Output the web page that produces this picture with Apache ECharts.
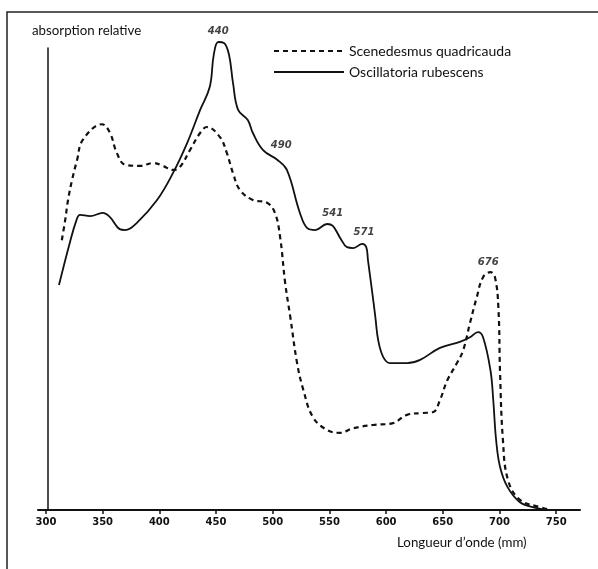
<!DOCTYPE html>
<html>
<head>
<meta charset="utf-8">
<script src="https://cdn.jsdelivr.net/npm/echarts@6/dist/echarts.min.js"></script>
<style>
  html, body { margin: 0; padding: 0; background: #fff; }
  #main { width: 598px; height: 569px; }
</style>
</head>
<body>
<div id="main"></div>
<script>
// longueur d'onde (nm) / absorption relative
var scenedesmusNm = [314, 317, 319.5, 323, 327.5, 332.5, 349.5, 356.5, 362.5, 370, 383, 394.5, 403, 412, 418, 427, 436, 442, 453.5, 459.5, 465, 471, 482.5, 495, 502, 506.5, 511, 515.5, 521.5, 527, 535.5, 548, 559.5, 571, 588.5, 606, 618.5, 632.5, 641.5, 647.5, 654, 662.5, 668, 674, 680, 685.5, 692, 696, 699, 700.5, 703, 707.5, 718, 736, 745];
var scenedesmusVal = [58.4, 62.8, 67.1, 71.4, 75.8, 80.1, 83.5, 81.6, 77.3, 74.7, 74.5, 75.1, 74.5, 73.6, 74.2, 77.9, 81.6, 82.9, 80.7, 77.3, 72.9, 69.3, 67.1, 66.5, 64.3, 59.1, 49.1, 41.8, 31.8, 26.0, 20.1, 17.3, 16.7, 17.7, 18.4, 18.8, 20.6, 21.0, 21.2, 23.8, 28.1, 31.8, 34.6, 40.5, 46.1, 50.4, 51.5, 50.4, 43.9, 29.7, 15.2, 6.5, 2.2, 0.6, 0];

var oscillatoriaNm = [311.5, 321, 327, 330, 339, 350, 356.5, 365, 370, 380, 398, 412, 424.5, 436, 444.5, 448, 452, 457, 461.5, 465, 469.5, 478, 482.5, 491.5, 504, 512.5, 524, 530.5, 537.5, 548, 553, 559.5, 565.5, 571, 579, 582.5, 584, 587.5, 590.5, 593, 597.5, 603.5, 618.5, 630, 647.5, 665, 674, 681, 685.5, 692, 694.5, 697, 700.5, 707, 718, 733, 742];
var oscillatoriaVal = [48.7, 57.8, 62.8, 63.9, 63.6, 64.3, 63.4, 60.8, 60.6, 62.1, 67.1, 72.9, 79.4, 86.6, 91.6, 98.5, 101.3, 101.1, 98.5, 92.4, 86.6, 84.4, 81.6, 77.9, 75.8, 73.6, 64.3, 61.0, 60.6, 61.9, 61.5, 58.9, 56.9, 56.7, 57.6, 56.9, 54.1, 47.6, 41.8, 36.8, 33.1, 31.8, 31.8, 32.5, 35.1, 36.4, 37.4, 38.5, 37.4, 30.3, 23.8, 15.2, 9.3, 5.0, 1.7, 0.4, 0];

// pics annotés
var peakText = ['440', '490', '541', '571', '676'];
var peakNm = [452, 507.5, 553, 580.5, 690];
var peakVal = [103.5, 79, 64.3, 60, 53.5];

var xTicks = [300, 350, 400, 450, 500, 550, 600, 650, 700, 750];

function zip(xs, ys) {
  return xs.map(function (x, i) { return [x, ys[i]]; });
}

var chart = echarts.init(document.getElementById('main'));

chart.setOption({
  animation: false,
  title: [
    {
      text: 'absorption relative',
      left: 27, top: 19,
      textStyle: { fontFamily: 'Lato', fontSize: 13.3, fontWeight: 'normal', color: '#111' }
    },
    {
      text: 'Longueur d\u2019onde (mm)',
      left: 392, top: 531,
      textStyle: { fontFamily: 'Lato', fontSize: 13.3, fontWeight: 'normal', color: '#111' }
    }
  ],
  graphic: [
    {
      type: 'rect',
      shape: { x: 7, y: 12, width: 700, height: 700 },
      style: { fill: 'none', stroke: '#222', lineWidth: 1.5 }
    }
  ],
  legend: {
    data: ['Scenedesmus quadricauda', 'Oscillatoria rubescens'],
    orient: 'vertical',
    left: 268, top: 39,
    itemWidth: 70, itemHeight: 14, itemGap: 7,
    itemStyle: { opacity: 0 },
    textStyle: { fontFamily: 'Lato', fontSize: 14, color: '#111' }
  },
  grid: { left: 38, right: 18, top: 48, bottom: 59, containLabel: false },
  xAxis: {
    type: 'value',
    min: 293, max: 771,
    splitLine: { show: false },
    axisLine: { lineStyle: { color: '#111', width: 2 } },
    axisTick: { show: true, length: 4, lineStyle: { color: '#111', width: 1.5 }, customValues: xTicks },
    axisLabel: {
      customValues: xTicks,
      margin: 7,
      color: '#111',
      fontFamily: 'DejaVu Sans',
      fontWeight: 'bold',
      fontSize: 10
    }
  },
  yAxis: {
    type: 'value',
    min: 0, max: 100,
    offset: -10,
    splitLine: { show: false },
    axisLine: { show: true, lineStyle: { color: '#111', width: 1.5 } },
    axisTick: { show: false },
    axisLabel: { show: false }
  },
  series: [
    {
      name: 'Scenedesmus quadricauda',
      type: 'line',
      data: zip(scenedesmusNm, scenedesmusVal),
      smooth: 0.4,
      symbol: 'none',
      clip: false,
      lineStyle: { color: '#111', width: 2.2, type: [5, 4] },
      itemStyle: { color: '#111' }
    },
    {
      name: 'Oscillatoria rubescens',
      type: 'line',
      data: zip(oscillatoriaNm, oscillatoriaVal),
      smooth: 0.4,
      symbol: 'none',
      clip: false,
      lineStyle: { color: '#111', width: 1.8 },
      itemStyle: { color: '#111' }
    },
    {
      name: 'pics',
      type: 'scatter',
      symbolSize: 0,
      clip: false,
      data: peakNm.map(function (x, i) { return [x, peakVal[i], peakText[i]]; }),
      label: {
        show: true,
        position: 'inside',
        formatter: function (p) { return p.value[2]; },
        fontFamily: 'DejaVu Sans',
        fontStyle: 'italic',
        fontWeight: 'bold',
        fontSize: 10,
        color: '#111'
      }
    }
  ]
});
</script>
</body>
</html>
